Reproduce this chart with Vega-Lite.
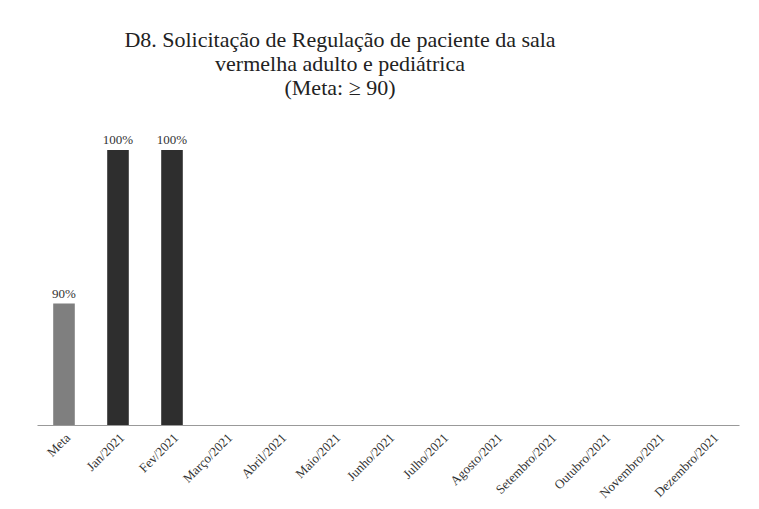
{
  "$schema": "https://vega.github.io/schema/vega-lite/v6.json",
  "width": 702,
  "height": 295,
  "autosize": "none",
  "padding": {"left": 37, "top": 130, "right": 20, "bottom": 84},
  "background": "white",
  "title": {
    "text": ["D8. Solicitação de Regulação de paciente da sala", "vermelha adulto e pediátrica", "(Meta: ≥ 90)"],
    "font": "Liberation Serif",
    "fontSize": 22,
    "fontWeight": "normal",
    "color": "#222222",
    "lineHeight": 24,
    "anchor": "middle",
    "dx": -48,
    "offset": 30
  },
  "data": {
    "values": [
      {"mes": "Meta", "valor": 90, "tipo": "Meta", "rotulo": "90%"},
      {"mes": "Jan/2021", "valor": 100, "tipo": "Realizado", "rotulo": "100%"},
      {"mes": "Fev/2021", "valor": 100, "tipo": "Realizado", "rotulo": "100%"},
      {"mes": "Março/2021", "valor": null, "tipo": "Realizado", "rotulo": ""},
      {"mes": "Abril/2021", "valor": null, "tipo": "Realizado", "rotulo": ""},
      {"mes": "Maio/2021", "valor": null, "tipo": "Realizado", "rotulo": ""},
      {"mes": "Junho/2021", "valor": null, "tipo": "Realizado", "rotulo": ""},
      {"mes": "Julho/2021", "valor": null, "tipo": "Realizado", "rotulo": ""},
      {"mes": "Agosto/2021", "valor": null, "tipo": "Realizado", "rotulo": ""},
      {"mes": "Setembro/2021", "valor": null, "tipo": "Realizado", "rotulo": ""},
      {"mes": "Outubro/2021", "valor": null, "tipo": "Realizado", "rotulo": ""},
      {"mes": "Novembro/2021", "valor": null, "tipo": "Realizado", "rotulo": ""},
      {"mes": "Dezembro/2021", "valor": null, "tipo": "Realizado", "rotulo": ""}
    ]
  },
  "encoding": {
    "x": {
      "field": "mes",
      "type": "nominal",
      "sort": null,
      "scale": {
        "domain": ["Meta", "Jan/2021", "Fev/2021", "Março/2021", "Abril/2021", "Maio/2021", "Junho/2021", "Julho/2021", "Agosto/2021", "Setembro/2021", "Outubro/2021", "Novembro/2021", "Dezembro/2021"],
        "paddingInner": 0.6,
        "paddingOuter": 0.3
      },
      "axis": {
        "title": null,
        "labelAngle": -45,
        "labelFont": "Liberation Serif",
        "labelFontSize": 13,
        "labelColor": "#333333",
        "domainColor": "#999999",
        "ticks": false,
        "labelPadding": 6
      }
    },
    "y": {
      "field": "valor",
      "type": "quantitative",
      "scale": {"domain": [82.1, 101.3], "zero": false, "nice": false},
      "axis": null
    }
  },
  "layer": [
    {
      "mark": {"type": "bar", "clip": true},
      "encoding": {
        "color": {
          "field": "tipo",
          "type": "nominal",
          "scale": {"domain": ["Meta", "Realizado"], "range": ["#7f7f7f", "#2e2e2e"]},
          "legend": null
        }
      }
    },
    {
      "mark": {"type": "text", "dy": -10, "font": "Liberation Serif", "fontSize": 13, "color": "#333333"},
      "encoding": {"text": {"field": "rotulo"}}
    }
  ],
  "config": {"view": {"stroke": null}}
}
